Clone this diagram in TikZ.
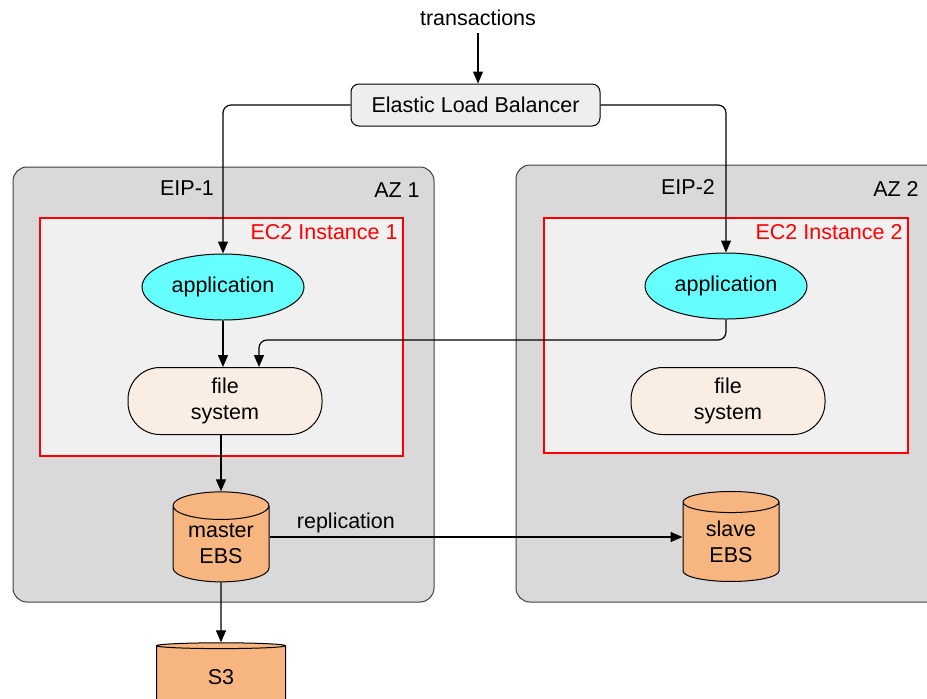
\documentclass[tikz,border=0pt]{standalone}
\usepackage{fontspec}
\setmainfont{Liberation Sans}
\usepackage{tikz}
\usetikzlibrary{calc}
\usetikzlibrary{arrows.meta}
\usetikzlibrary{shapes.geometric}

\definecolor{azgray}{HTML}{D9D9D9}
\definecolor{ec2gray}{HTML}{F0F0F0}
\definecolor{elbgray}{HTML}{EEEEEE}
\definecolor{appcyan}{HTML}{66FFFF}
\definecolor{fslinen}{HTML}{FAEDE3}
\definecolor{ebsorange}{HTML}{F7B57F}
\definecolor{edgegray}{HTML}{404040}

\tikzset{
  every node/.style = {font=\fontsize{10.75}{13}\selectfont},
  conn/.style = {line width=.6pt, rounded corners=4pt,
    -{Stealth[length=6pt, width=5pt, inset=0pt]}},
  azbox/.style = {draw=edgegray, line width=.5pt, fill=azgray,
    rounded corners=7pt, inner sep=0pt},
  ec2box/.style = {draw=red, line width=1pt, fill=ec2gray, inner sep=0pt},
  app/.style = {ellipse, draw, line width=.5pt, fill=appcyan, inner sep=0pt,
    minimum width=81pt, minimum height=33pt},
  fs/.style = {draw, line width=.5pt, fill=fslinen, rounded corners=16pt,
    minimum width=97pt, minimum height=33.5pt, align=center},
  ebs/.style = {cylinder, shape border rotate=90, aspect=.42, draw,
    line width=.5pt, fill=ebsorange, inner sep=0pt, align=center,
    minimum width=48pt, minimum height=45pt},
}

\begin{document}
\begin{tikzpicture}[x=.5pt, y=-.5pt]
  \clip (0,0) rectangle (927,698);

% zones
  \node[azbox, minimum width=210.5pt, minimum height=217.5pt] (az1) at (223.5,384.5) {};
  \node[azbox, minimum width=214.5pt, minimum height=218.5pt] (az2) at (730.5,383.5) {};
  \node (eip1) at (187,188) {EIP-1};
  \node (azlab1) at (397,190) {AZ 1};
  \node (eip2) at (688,187) {EIP-2};
  \node (azlab2) at (896,189) {AZ 2};

% instances
  \node[ec2box, minimum width=181.5pt, minimum height=119pt] (ec2a) at (221.5,337) {};
  \node[ec2box, minimum width=182pt, minimum height=117.5pt] (ec2b) at (726,335.5) {};
  \node[anchor=north east, text=red, inner sep=2pt] (ec2lab1) at ($(ec2a.north east)+(-2,3)$) {EC2 Instance 1};
  \node[anchor=north east, text=red, inner sep=2pt] (ec2lab2) at ($(ec2b.north east)+(-2,3)$) {EC2 Instance 2};

% balancer
  \node (trans) at (478,18) {transactions};
  \node[draw, line width=.5pt, fill=elbgray, rounded corners=4pt,
    minimum width=124.5pt, minimum height=21pt] (elb) at (475.5,105) {Elastic Load Balancer};

% applications and file systems
  \node[app] (app1) at (223,287) {application};
  \node[app] (app2) at (726,286) {application};
  \node[fs] (fs1) at (225,401) {file\\system};
  \node[fs] (fs2) at (728,401) {file\\system};

% storage
  \node[ebs] (master) at (221,544) {master\\EBS};
  \node[ebs] (slave) at (731,542) {slave\\EBS};
  \node[ebs, aspect=.22, minimum width=64.5pt, minimum height=32.5pt] (s3) at (221,677) {S3};

% connections
  \draw[conn] (trans.south) -- (trans.south |- elb.north);
  \draw[conn] (elb.west) -| (app1.north);
  \draw[conn] (elb.east) -| (app2.north);
  \draw[conn] (app1.south) -- (app1.south |- fs1.north);
  \node[shape=coordinate] (bend) at (259,340) {};
  \draw[conn] (app2.south) |- (bend) -- (bend |- fs1.north);
  \draw[conn] (fs1.south -| master.north) -- (master.north);
  \node[shape=coordinate] (repl) at ($(master.east)+(0,-7)$) {};
  \draw[conn] (repl) -- (repl -| slave.west)
    node[pos=.185, above, inner sep=1.5pt] {replication};
  \draw[conn] (master.south) -- (s3.north);
\end{tikzpicture}
\end{document}
